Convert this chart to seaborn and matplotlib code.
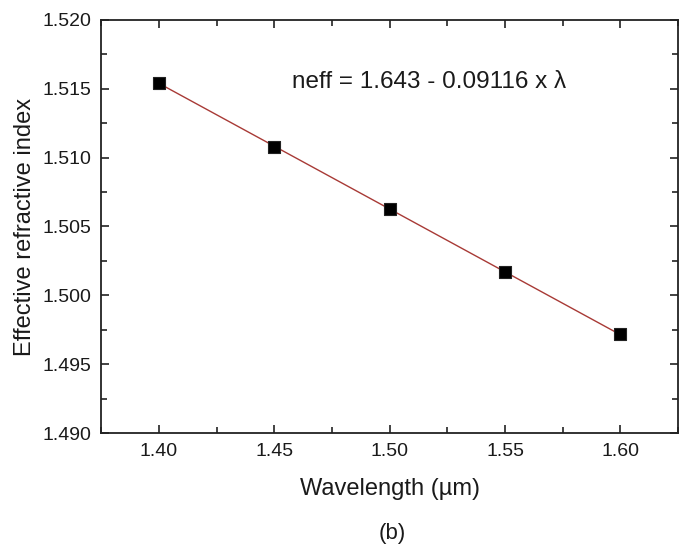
import numpy as np
import pandas as pd
import matplotlib.pyplot as plt
import seaborn as sns
from matplotlib.ticker import MultipleLocator

# data
wavelength = [1.40, 1.45, 1.50, 1.55, 1.60]
neff = [1.5154, 1.5108, 1.5063, 1.5017, 1.4972]
fit_intercept = 1.643
fit_slope = -0.09116

sns.set_style("ticks")
plt.rcParams["font.family"] = ["Liberation Sans", "DejaVu Sans"]
plt.rcParams["text.color"] = "#1a1a1a"
plt.rcParams["axes.labelcolor"] = "#1a1a1a"
plt.rcParams["xtick.labelcolor"] = "#1a1a1a"
plt.rcParams["ytick.labelcolor"] = "#1a1a1a"

df = pd.DataFrame({"wavelength": wavelength, "neff": neff})
fit_x = np.array([wavelength[0], wavelength[-1]])
fit_df = pd.DataFrame({"wavelength": fit_x, "neff": fit_intercept + fit_slope * fit_x})

fig = plt.figure(figsize=(6.85, 5.47), dpi=100)
ax = fig.add_axes([0.148, 0.208, 0.842, 0.756])

sns.lineplot(data=fit_df, x="wavelength", y="neff", color="#a83a36", lw=1.0, ax=ax)
sns.scatterplot(data=df, x="wavelength", y="neff", marker="s", s=72, color="black",
                edgecolor="#222222", linewidth=0.8, ax=ax, zorder=3)

ax.set_xlim(1.375, 1.625)
ax.set_ylim(1.490, 1.520)
ax.xaxis.set_major_locator(MultipleLocator(0.05))
ax.xaxis.set_minor_locator(MultipleLocator(0.025))
ax.yaxis.set_major_locator(MultipleLocator(0.005))
ax.yaxis.set_minor_locator(MultipleLocator(0.0025))
ax.xaxis.set_major_formatter(plt.FormatStrFormatter("%.2f"))
ax.yaxis.set_major_formatter(plt.FormatStrFormatter("%.3f"))

ax.tick_params(which="both", direction="in", top=True, right=True, width=1.2, color="#222222")
ax.tick_params(which="major", length=6, labelsize=14, pad=7)
ax.tick_params(which="minor", length=4)
for sp in ax.spines.values():
    sp.set_linewidth(1.3)
    sp.set_color("#222222")

ax.set_xlabel("Wavelength (µm)", fontsize=17, labelpad=13)
ax.set_ylabel("Effective refractive index", fontsize=17, labelpad=5)

ax.text(0.331, 0.85, "neff = 1.643 - 0.09116 x λ", transform=ax.transAxes,
        fontsize=17.5, va="center", ha="left")
fig.text(0.572, 0.025, "(b)", fontsize=16, ha="center", va="center")

fig.savefig("out.png", dpi=100)
